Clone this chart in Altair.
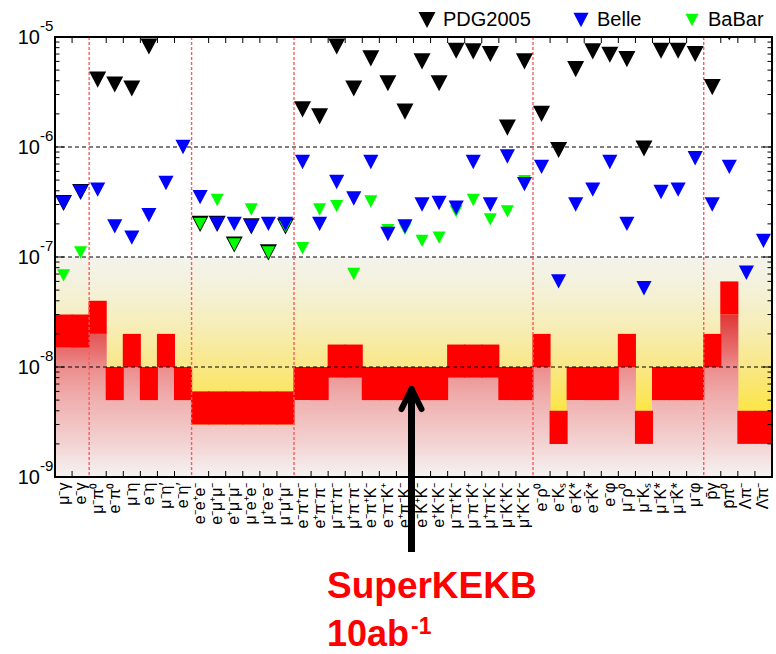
import altair as alt
import numpy as np
import pandas as pd

# ---------------- data ----------------
categories = ["μ⁻γ", "e⁻γ", "μ⁻π⁰", "e⁻π⁰", "μ⁻η", "e⁻η", "μ⁻η′", "e⁻η′",
              "e⁻e⁺e⁻", "e⁻μ⁺μ⁻", "e⁺μ⁻μ⁻", "μ⁻e⁺e⁻", "μ⁺e⁻e⁻", "μ⁻μ⁺μ⁻",
              "e⁻π⁺π⁻", "e⁺π⁻π⁻", "μ⁻π⁺π⁻", "μ⁺π⁻π⁻", "e⁻π⁺K⁻", "e⁻π⁻K⁺", "e⁺π⁻K⁻",
              "e⁻K⁺K⁻", "e⁺K⁻K⁻", "μ⁻π⁺K⁻", "μ⁻π⁻K⁺", "μ⁺π⁻K⁻", "μ⁻K⁺K⁻", "μ⁺K⁻K⁻",
              "e⁻ρ⁰", "e⁻Kₛ", "e⁻K*", "e⁻K̄*", "e⁻φ", "μ⁻ρ⁰", "μ⁻Kₛ", "μ⁻K*", "μ⁻K̄*", "μ⁻φ",
              "p̄γ", "p̄π⁰", "Λπ⁻", "Λ̄π⁻"]

pdg2005 = [3.1e-7, 3.9e-7, 4.1e-6, 3.7e-6, 3.4e-6, 8.2e-6, None, None,
           2.0e-7, 2.0e-7, 1.3e-7, 1.9e-7, 1.1e-7, 1.9e-7,
           2.2e-6, 1.9e-6, 8.2e-6, 3.4e-6, 6.4e-6, 3.8e-6, 2.1e-6, 6.0e-6, 3.8e-6,
           7.5e-6, 7.4e-6, 7.0e-6, 1.5e-6, 6.0e-6,
           2.0e-6, 9.4e-7, 5.1e-6, 7.4e-6, 6.9e-6, 6.3e-6, 9.7e-7, 7.5e-6, 7.5e-6, 7.0e-6,
           3.5e-6, 1.1e-5, None, None]

belle = [3.1e-7, 3.9e-7, 4.1e-7, 1.9e-7, 1.5e-7, 2.4e-7, 4.7e-7, 1.0e-6,
         3.5e-7, 2.0e-7, 2.0e-7, 1.9e-7, 2.0e-7, 2.0e-7,
         7.3e-7, 2.0e-7, 4.8e-7, 3.4e-7, 7.3e-7, 1.62e-7, 1.9e-7, 3.0e-7, 3.1e-7,
         2.8e-7, 7.3e-7, 3.0e-7, 8.2e-7, 4.6e-7,
         6.6e-7, 6.0e-8, 3.0e-7, 4.1e-7, 7.3e-7, 2.0e-7, 5.2e-8, 3.9e-7, 4.1e-7, 7.9e-7,
         3.0e-7, 6.6e-7, 7.2e-8, 1.4e-7]

babar = [6.8e-8, 1.1e-7, None, None, None, None, None, None,
         2.0e-7, 3.3e-7, 1.3e-7, 2.7e-7, 1.1e-7, 1.9e-7,
         1.2e-7, 2.7e-7, 2.9e-7, 7.0e-8, 3.2e-7, 1.75e-7, 1.8e-7, 1.4e-7, 1.5e-7,
         2.6e-7, 3.3e-7, 2.2e-7, 2.6e-7, 4.9e-7,
         None, None, None, None, None, None, None, None, None, None,
         None, None, None, None]

# SuperKEKB 10 ab^-1 expected sensitivity band (lower / upper edge of red box)
sk_lo = [1.5e-8, 1.5e-8, 2e-8, 5e-9, 1e-8, 5e-9, 1e-8, 5e-9,
         3e-9, 3e-9, 3e-9, 3e-9, 3e-9, 3e-9,
         5e-9, 5e-9, 8e-9, 8e-9, 5e-9, 5e-9, 5e-9, 5e-9, 5e-9, 8e-9, 8e-9, 8e-9, 5e-9, 5e-9,
         1e-8, 2e-9, 5e-9, 5e-9, 5e-9, 1e-8, 2e-9, 5e-9, 5e-9, 5e-9,
         1e-8, 3e-8, 2e-9, 2e-9]
sk_hi = [3e-8, 3e-8, 4e-8, 1e-8, 2e-8, 1e-8, 2e-8, 1e-8,
         6e-9, 6e-9, 6e-9, 6e-9, 6e-9, 6e-9,
         1e-8, 1e-8, 1.6e-8, 1.6e-8, 1e-8, 1e-8, 1e-8, 1e-8, 1e-8, 1.6e-8, 1.6e-8, 1.6e-8, 1e-8, 1e-8,
         2e-8, 4e-9, 1e-8, 1e-8, 1e-8, 2e-8, 4e-9, 1e-8, 1e-8, 1e-8,
         2e-8, 6e-8, 4e-9, 4e-9]

group_starts = ["μ⁻π⁰", "e⁻e⁺e⁻", "e⁻π⁺π⁻", "e⁻ρ⁰", "p̄γ"]
series_names = ["PDG2005", "Belle", "BaBar"]
series_colors = ["#000000", "#0000ff", "#00ff00"]
series_sizes = [289, 170, 170]
band_top, band_floor = 1e-7, 1e-9
decades = [1e-9, 1e-8, 1e-7, 1e-6, 1e-5]
grid_values = [1e-8, 1e-7, 1e-6]

# ---------------- layout ----------------
W, H = 717, 440
FONT = "Liberation Sans"
TRI = "M-1,-0.95L1,-0.95L0,0.95Z"
xscale = alt.Scale(type="band", domain=categories, paddingInner=0, paddingOuter=0)
yscale = alt.Scale(type="log", domain=[1e-9, 1e-5])
XAXIS = alt.Axis(title=None, labelAngle=-90, ticks=False, domain=False, grid=False,
                 labelPadding=5, labelFont=FONT, labelFontSize=16, labelColor="black",
                 labelOverlap=False, orient="bottom")


def X(field="cat", **kw):
    return alt.X(f"{field}:N", scale=xscale, axis=XAXIS, **kw)


def Y(field):
    return alt.Y(f"{field}:Q", scale=yscale, axis=None)


one = pd.DataFrame({"k": [0]})
BAR_W = alt.RelativeBandSize(band=1.06)

# yellow sensitivity background
yellow_grad = alt.Gradient(
    gradient="linear", x1=0, x2=0, y1=0, y2=1,
    stops=[alt.GradientStop(color="#f3f3ec", offset=0.0),
           alt.GradientStop(color="#f4f1d8", offset=0.15),
           alt.GradientStop(color="#f6edb6", offset=0.32),
           alt.GradientStop(color="#f9e786", offset=0.5),
           alt.GradientStop(color="#fbe65a", offset=0.64),
           alt.GradientStop(color="#fce640", offset=0.72),
           alt.GradientStop(color="#fce640", offset=1.0)])
region = pd.DataFrame({"top": [band_top], "bottom": [band_floor]})
yellow = alt.Chart(region).mark_rect(fill=yellow_grad).encode(
    x=alt.value(0), x2=alt.value(W), y=Y("top"), y2=alt.Y2("bottom:Q"))

# pink region below red boxes (one global gradient in log space)
pink_pos = np.array([-9.0, -8.7, -8.3, -8.0, -7.85, -7.7, -7.5])
pink_rgb = np.array([[246, 243, 243], [243, 211, 211], [240, 176, 176], [236, 140, 140],
                     [232, 110, 110], [227, 86, 86], [225, 50, 50]], dtype=float)


def pink_at(lv):
    c = [np.interp(lv, pink_pos, pink_rgb[:, i]) for i in range(3)]
    return "#%02x%02x%02x" % tuple(int(round(v)) for v in c)


sens = pd.DataFrame({"cat": categories, "lo": sk_lo, "hi": sk_hi, "floor": band_floor})
pink_layers = []
for lvl in sorted(set(sk_lo)):
    lb = np.log10(lvl)
    span = lb + 9.0
    stops = [alt.GradientStop(color=pink_at(lb), offset=0.0)]
    for p in sorted(pink_pos, reverse=True):
        if p < lb - 1e-9:
            stops.append(alt.GradientStop(color=pink_at(p), offset=float((lb - p) / span)))
    g = alt.Gradient(gradient="linear", x1=0, x2=0, y1=0, y2=1, stops=stops)
    sub = sens[sens["lo"] == lvl]
    pink_layers.append(alt.Chart(sub).mark_bar(fill=g, width=BAR_W).encode(
        x=X(), y=Y("lo"), y2=alt.Y2("floor:Q")))

# red boxes
red = alt.Chart(sens).mark_bar(color="#ff0000", width=BAR_W).encode(
    x=X(), y=Y("lo"), y2=alt.Y2("hi:Q"))

grid = alt.Chart(pd.DataFrame({"v": grid_values})).mark_rule(
    color="black", strokeDash=[4, 3], strokeWidth=1).encode(y=Y("v"))

sep = alt.Chart(pd.DataFrame({"cat": group_starts})).mark_rule(
    color="#ff5a5a", strokeDash=[3, 2], strokeWidth=1.4).encode(x=X(bandPosition=0))

# markers (draw order: PDG, BaBar, Belle)
rows = []
for name, vals in [("PDG2005", pdg2005), ("BaBar", babar), ("Belle", belle)]:
    for c, v in zip(categories, vals):
        if v is not None:
            rows.append({"cat": c, "val": v, "series": name})
pts = pd.DataFrame(rows)
leg = alt.Legend(orient="none", legendX=362, legendY=-27, direction="horizontal",
                 title=None, labelFont=FONT, labelFontSize=20, labelColor="black",
                 symbolType=TRI, symbolStrokeWidth=0, symbolOpacity=1,
                 columnPadding=40, labelOffset=6, padding=0)
points = alt.Chart(pts).mark_point(filled=True, shape=TRI, opacity=1, strokeWidth=0, clip=True).encode(
    x=X(), y=Y("val"),
    color=alt.Color("series:N", scale=alt.Scale(domain=series_names, range=series_colors), legend=leg),
    size=alt.Size("series:N", scale=alt.Scale(domain=series_names, range=series_sizes), legend=leg))

# axis ticks (inward)
tick_cats = pd.DataFrame({"cat": [c for c in categories[1:] if c not in group_starts]})
xt_bot = alt.Chart(tick_cats).mark_rule(color="black", strokeWidth=1).encode(
    x=X(bandPosition=0), y=alt.value(H - 6), y2=alt.value(H))
xt_top = alt.Chart(tick_cats).mark_rule(color="black", strokeWidth=1).encode(
    x=X(bandPosition=0), y=alt.value(0), y2=alt.value(6))
minor_vals = [m * d for d in decades[:-1] for m in range(2, 10)]
majors = pd.DataFrame({"v": decades})
minors = pd.DataFrame({"v": minor_vals})
yt = []
for df, ln in [(majors, 9), (minors, 4.5)]:
    yt.append(alt.Chart(df).mark_rule(color="black", strokeWidth=1).encode(
        y=Y("v"), x=alt.value(0), x2=alt.value(ln)))
    yt.append(alt.Chart(df).mark_rule(color="black", strokeWidth=1).encode(
        y=Y("v"), x=alt.value(W - ln), x2=alt.value(W)))

frame = alt.Chart(one).mark_rect(fillOpacity=0, stroke="black", strokeWidth=2).encode(
    x=alt.value(0), x2=alt.value(W), y=alt.value(0), y2=alt.value(H))

# y labels 10^n
dec_df = pd.DataFrame({"v": decades,
                       "base": ["10"] * len(decades),
                       "exp": [str(int(round(np.log10(v)))) for v in decades]})
ylab_base = alt.Chart(dec_df).mark_text(
    align="right", baseline="middle", font=FONT, fontSize=20, color="black", dy=1).encode(
    y=Y("v"), x=alt.value(-15), text="base:N")
ylab_exp = alt.Chart(dec_df).mark_text(
    align="left", baseline="middle", font=FONT, fontSize=15, color="black", dy=-11).encode(
    y=Y("v"), x=alt.value(-15), text="exp:N")

# annotation: arrow + SuperKEKB 10ab^-1
shaft = alt.Chart(one).mark_rule(color="black", strokeWidth=7).encode(
    x=alt.value(356.5), y=alt.value(353), y2=alt.value(515))
head_l = alt.Chart(one).mark_rule(color="black", strokeWidth=6, strokeCap="round").encode(
    x=alt.value(346.5), y=alt.value(372), x2=alt.value(356.5), y2=alt.value(352))
head_r = alt.Chart(one).mark_rule(color="black", strokeWidth=6, strokeCap="round").encode(
    x=alt.value(366.5), y=alt.value(372), x2=alt.value(356.5), y2=alt.value(352))
ann = pd.DataFrame({"a": ["SuperKEKB"], "b": ["10ab"], "c": ["-1"]})
t1 = alt.Chart(ann).mark_text(align="left", baseline="alphabetic", font=FONT, fontSize=37,
                              fontWeight="bold", color="#ff0000").encode(
    x=alt.value(272), y=alt.value(561), text="a:N")
t2 = alt.Chart(ann).mark_text(align="left", baseline="alphabetic", font=FONT, fontSize=36,
                              fontWeight="bold", color="#ff0000").encode(
    x=alt.value(272), y=alt.value(609), text="b:N")
t3 = alt.Chart(ann).mark_text(align="left", baseline="alphabetic", font=FONT, fontSize=23,
                              fontWeight="bold", color="#ff0000").encode(
    x=alt.value(356), y=alt.value(597), text="c:N")

chart = alt.layer(
    yellow, *pink_layers, red, grid, sep, points, xt_bot, xt_top, *yt, frame,
    ylab_base, ylab_exp, shaft, head_l, head_r, t1, t2, t3
).properties(
    width=W, height=H,
    padding={"left": 55, "top": 37, "right": 4, "bottom": 177},
    autosize=alt.AutoSizeParams(type="none"),
    background="white"
).configure_view(strokeWidth=0)

chart.save("out.html", embed_options={"renderer": "svg", "actions": False})
